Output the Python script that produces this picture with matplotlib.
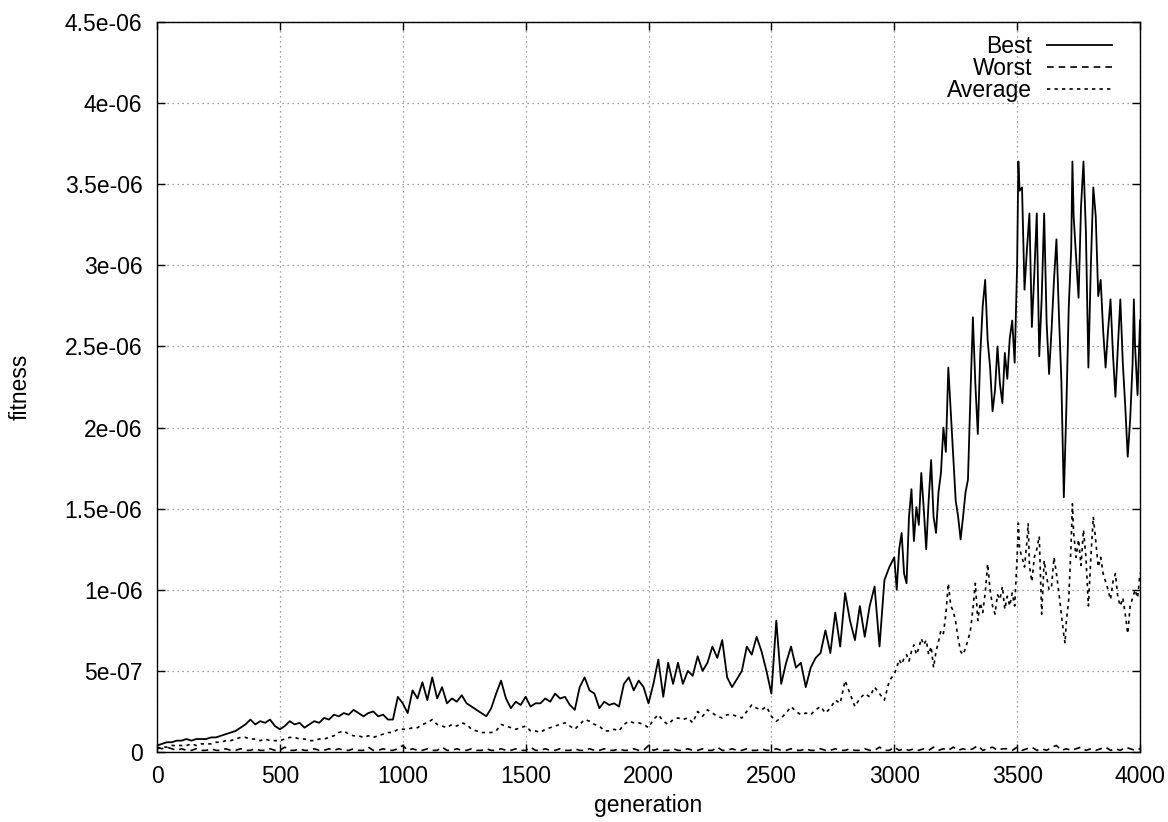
import matplotlib
matplotlib.use("Agg")
import matplotlib.pyplot as plt
import numpy as np

plt.rcParams['font.family'] = ['Liberation Sans', 'DejaVu Sans']

# ---------------- data (values in units of 1e-6) ----------------
best_gen = list(range(0, 3000, 20)) + [
    3000, 3010, 3020, 3030, 3040, 3050, 3060, 3070, 3080, 3090,
    3100, 3110, 3120, 3130, 3140, 3150, 3160, 3170, 3180, 3190,
    3200, 3210, 3220, 3230, 3240, 3250, 3260, 3270, 3280, 3290,
    3300, 3310, 3320, 3330, 3340, 3350, 3360, 3370, 3380, 3390,
    3400, 3410, 3420, 3430, 3440, 3450, 3460, 3470, 3480, 3490,
    3500, 3505, 3510, 3520, 3530, 3540, 3550, 3560, 3570, 3580, 3590,
    3600, 3610, 3620, 3630, 3640, 3650, 3660, 3670, 3680, 3690,
    3700, 3710, 3720, 3725, 3730, 3740, 3750, 3760, 3770, 3780, 3790,
    3800, 3810, 3820, 3830, 3840, 3850, 3860, 3870, 3880, 3890,
    3900, 3910, 3920, 3930, 3940, 3950, 3960, 3970, 3975, 3980, 3990, 4000]
best_val = [
    0.04, 0.05, 0.06, 0.06, 0.07, 0.07, 0.08, 0.07, 0.08, 0.08,
    0.08, 0.09, 0.09, 0.10, 0.11, 0.12, 0.13, 0.15, 0.17, 0.20,
    0.17, 0.19, 0.18, 0.20, 0.16, 0.14, 0.16, 0.19, 0.17, 0.18,
    0.15, 0.17, 0.19, 0.18, 0.21, 0.20, 0.23, 0.22, 0.24, 0.23,
    0.26, 0.24, 0.22, 0.24, 0.25, 0.22, 0.23, 0.20, 0.20, 0.34,
    0.30, 0.24, 0.38, 0.33, 0.43, 0.32, 0.46, 0.33, 0.40, 0.30,
    0.33, 0.31, 0.35, 0.30, 0.28, 0.26, 0.24, 0.22, 0.27, 0.36,
    0.44, 0.33, 0.27, 0.31, 0.29, 0.34, 0.28, 0.30, 0.30, 0.33,
    0.31, 0.36, 0.33, 0.34, 0.29, 0.26, 0.40, 0.46, 0.38, 0.36,
    0.27, 0.31, 0.29, 0.30, 0.28, 0.42, 0.46, 0.38, 0.44, 0.40,
    0.30, 0.42, 0.57, 0.34, 0.55, 0.42, 0.55, 0.42, 0.50, 0.47,
    0.59, 0.50, 0.55, 0.65, 0.58, 0.69, 0.46, 0.40, 0.45, 0.50,
    0.65, 0.60, 0.71, 0.62, 0.50, 0.36, 0.81, 0.42, 0.55, 0.65,
    0.52, 0.55, 0.40, 0.52, 0.58, 0.61, 0.75, 0.61, 0.86, 0.65,
    0.98, 0.81, 0.69, 0.90, 0.71, 0.90, 1.02, 0.65, 1.06, 1.14,
    1.20, 1.00, 1.25, 1.35, 1.10, 1.04, 1.45, 1.62, 1.30, 1.51,
    1.40, 1.72, 1.50, 1.25, 1.55, 1.80, 1.45, 1.35, 1.60, 1.72,
    2.00, 1.85, 2.37, 2.10, 1.82, 1.55, 1.45, 1.31, 1.45, 1.60,
    1.68, 2.20, 2.68, 2.27, 1.96, 2.45, 2.75, 2.91, 2.54, 2.37,
    2.10, 2.23, 2.50, 2.27, 2.15, 2.46, 2.30, 2.55, 2.66, 2.40,
    3.00, 3.64, 3.46, 3.48, 2.85, 3.10, 3.32, 2.62, 2.95, 3.32, 2.44,
    2.80, 3.32, 2.65, 2.33, 2.60, 2.91, 3.16, 2.70, 2.29, 1.57,
    2.10, 2.74, 3.10, 3.64, 3.30, 3.05, 2.80, 3.36, 3.64, 3.20, 2.37,
    3.00, 3.48, 3.30, 2.81, 2.91, 2.60, 2.37, 2.60, 2.79, 2.45,
    2.19, 2.50, 2.79, 2.40, 2.13, 1.82, 2.05, 2.40, 2.79, 2.50, 2.20, 2.66]

avg_gen = list(range(0, 3000, 20)) + [
    3000, 3010, 3020, 3030, 3040, 3050, 3060, 3070, 3080, 3090,
    3100, 3110, 3120, 3130, 3140, 3150, 3160, 3170, 3180, 3190,
    3200, 3210, 3220, 3230, 3240, 3250, 3260, 3270, 3280, 3290,
    3300, 3310, 3320, 3330, 3340, 3350, 3360, 3370, 3380, 3390,
    3400, 3410, 3420, 3430, 3440, 3450, 3460, 3470, 3480, 3490,
    3500, 3505, 3510, 3520, 3530, 3540, 3545, 3550, 3560, 3570, 3580, 3590,
    3600, 3610, 3620, 3630, 3640, 3650, 3660, 3670, 3680, 3690, 3695,
    3700, 3710, 3720, 3725, 3730, 3740, 3750, 3760, 3770, 3780, 3790,
    3800, 3810, 3820, 3830, 3840, 3850, 3860, 3870, 3880, 3890,
    3900, 3910, 3920, 3930, 3940, 3950, 3960, 3970, 3980, 3990, 4000]
avg_val = [
    0.02, 0.03, 0.03, 0.04, 0.04, 0.04, 0.04, 0.05, 0.04, 0.05,
    0.05, 0.05, 0.06, 0.06, 0.07, 0.07, 0.08, 0.09, 0.09, 0.08,
    0.08, 0.07, 0.08, 0.07, 0.07, 0.07, 0.08, 0.09, 0.09, 0.08,
    0.08, 0.07, 0.07, 0.08, 0.08, 0.09, 0.10, 0.12, 0.13, 0.11,
    0.10, 0.10, 0.09, 0.10, 0.09, 0.10, 0.11, 0.12, 0.12, 0.14,
    0.14, 0.14, 0.15, 0.15, 0.17, 0.18, 0.20, 0.17, 0.16, 0.15,
    0.17, 0.16, 0.18, 0.17, 0.14, 0.13, 0.12, 0.12, 0.12, 0.13,
    0.17, 0.16, 0.15, 0.14, 0.15, 0.16, 0.13, 0.13, 0.12, 0.14,
    0.15, 0.16, 0.17, 0.18, 0.16, 0.14, 0.17, 0.20, 0.19, 0.17,
    0.16, 0.13, 0.13, 0.14, 0.13, 0.17, 0.19, 0.18, 0.18, 0.17,
    0.15, 0.20, 0.23, 0.19, 0.17, 0.20, 0.21, 0.20, 0.21, 0.18,
    0.25, 0.22, 0.26, 0.24, 0.22, 0.21, 0.23, 0.23, 0.22, 0.21,
    0.25, 0.29, 0.27, 0.26, 0.28, 0.22, 0.19, 0.21, 0.24, 0.28,
    0.25, 0.23, 0.24, 0.23, 0.26, 0.28, 0.24, 0.27, 0.32, 0.30,
    0.44, 0.36, 0.28, 0.33, 0.36, 0.34, 0.40, 0.36, 0.32, 0.44,
    0.48, 0.52, 0.57, 0.54, 0.58, 0.60, 0.56, 0.62, 0.66, 0.60,
    0.64, 0.70, 0.66, 0.69, 0.60, 0.65, 0.52, 0.62, 0.68, 0.75,
    0.73, 0.85, 1.04, 0.90, 0.87, 0.80, 0.70, 0.62, 0.60, 0.64,
    0.69, 0.75, 0.88, 1.04, 0.81, 0.92, 0.86, 0.98, 1.16, 1.00,
    0.90, 0.85, 0.97, 0.94, 1.02, 0.88, 0.96, 0.90, 0.98, 0.90,
    1.20, 1.41, 1.25, 1.20, 1.14, 1.30, 1.41, 1.15, 1.05, 1.20, 1.25, 1.33,
    0.85, 1.18, 1.08, 1.00, 1.02, 1.20, 1.10, 0.98, 0.85, 0.72, 0.67,
    0.80, 0.94, 1.30, 1.53, 1.35, 1.20, 1.31, 1.15, 1.37, 1.20, 0.90,
    1.20, 1.45, 1.30, 1.14, 1.20, 1.10, 1.05, 1.00, 0.94, 1.05,
    1.10, 0.95, 0.90, 0.95, 0.85, 0.73, 0.90, 0.95, 1.00, 0.95, 1.10]

worst_gen = list(range(0, 4001, 20))
worst_val = [
    0.03, 0.02, 0.03, 0.02, 0.01, 0.02, 0.01, 0.01, 0.02, 0.01,
    0.01, 0.02, 0.01, 0.01, 0.02, 0.01, 0.01, 0.02, 0.01, 0.01,
    0.02, 0.01, 0.01, 0.02, 0.01, 0.01, 0.03, 0.01, 0.01, 0.02,
    0.01, 0.01, 0.02, 0.01, 0.01, 0.02, 0.01, 0.02, 0.01, 0.01,
    0.02, 0.01, 0.01, 0.03, 0.01, 0.01, 0.02, 0.01, 0.01, 0.02,
    0.04, 0.01, 0.02, 0.01, 0.01, 0.02, 0.01, 0.01, 0.03, 0.01,
    0.01, 0.02, 0.01, 0.01, 0.02, 0.01, 0.01, 0.02, 0.01, 0.01,
    0.02, 0.01, 0.01, 0.02, 0.01, 0.01, 0.03, 0.01, 0.01, 0.02,
    0.01, 0.01, 0.02, 0.01, 0.01, 0.02, 0.01, 0.01, 0.02, 0.01,
    0.01, 0.02, 0.01, 0.01, 0.02, 0.01, 0.01, 0.02, 0.01, 0.01,
    0.04, 0.01, 0.02, 0.01, 0.01, 0.02, 0.01, 0.01, 0.02, 0.01,
    0.01, 0.02, 0.01, 0.01, 0.03, 0.01, 0.01, 0.02, 0.01, 0.01,
    0.02, 0.01, 0.01, 0.02, 0.01, 0.01, 0.02, 0.01, 0.01, 0.02,
    0.01, 0.01, 0.02, 0.01, 0.01, 0.02, 0.01, 0.01, 0.02, 0.01,
    0.01, 0.02, 0.01, 0.01, 0.02, 0.01, 0.01, 0.03, 0.01, 0.01,
    0.03, 0.01, 0.02, 0.01, 0.02, 0.01, 0.02, 0.01, 0.03, 0.01,
    0.02, 0.01, 0.03, 0.01, 0.02, 0.01, 0.02, 0.04, 0.01, 0.02,
    0.03, 0.01, 0.02, 0.02, 0.01, 0.03, 0.01, 0.02, 0.03, 0.01,
    0.02, 0.01, 0.03, 0.04, 0.01, 0.02, 0.01, 0.02, 0.03, 0.01,
    0.02, 0.01, 0.02, 0.03, 0.01, 0.02, 0.01, 0.03, 0.02, 0.01,
    0.02]

x_ticks = [0, 500, 1000, 1500, 2000, 2500, 3000, 3500, 4000]
y_ticks = [0, 5e-07, 1e-06, 1.5e-06, 2e-06, 2.5e-06, 3e-06, 3.5e-06, 4e-06, 4.5e-06]
y_tick_labels = ["0", "5e-07", "1e-06", "1.5e-06", "2e-06", "2.5e-06",
                 "3e-06", "3.5e-06", "4e-06", "4.5e-06"]

# ---------------- figure ----------------
fig = plt.figure(figsize=(11.68, 8.22), dpi=100)
ax = fig.add_axes([157 / 1168, 70 / 822, (1140 - 157) / 1168, (752 - 22) / 822])

scale = 1e-6
ax.plot(best_gen, np.array(best_val) * scale, color='black', lw=1.3,
        linestyle='-', label='Best')
ax.plot(worst_gen, np.array(worst_val) * scale, color='black', lw=1.2,
        linestyle=(0, (4, 3)), label='Worst')
ax.plot(avg_gen, np.array(avg_val) * scale, color='black', lw=1.2,
        linestyle=(0, (2, 2.5)), label='Average')

ax.set_xlim(0, 4000)
ax.set_ylim(0, 4.5e-06)
ax.set_xticks(x_ticks)
ax.set_xticklabels([str(t) for t in x_ticks])
ax.set_yticks(y_ticks)
ax.set_yticklabels(y_tick_labels)

fs = 16.5
ax.tick_params(direction='in', length=6, width=1, top=True, right=True,
               labelsize=fs, pad=9)
ax.tick_params(axis='y', pad=10.5)
ax.grid(True, color='#808080', linestyle=(0, (1, 3)), linewidth=0.9)
for s in ax.spines.values():
    s.set_linewidth(1.0)

ax.set_xlabel('generation', fontsize=fs, labelpad=5)
ax.set_ylabel('fitness', fontsize=fs, labelpad=24)

leg = ax.legend(loc='upper right', bbox_to_anchor=(0.9715, 0.9827),
                frameon=False, markerfirst=False,
                fontsize=fs, handlelength=2.84, handletextpad=0.65,
                labelspacing=-0.045, borderaxespad=0.0, borderpad=0.0)

fig.savefig('out.png', dpi=100)
